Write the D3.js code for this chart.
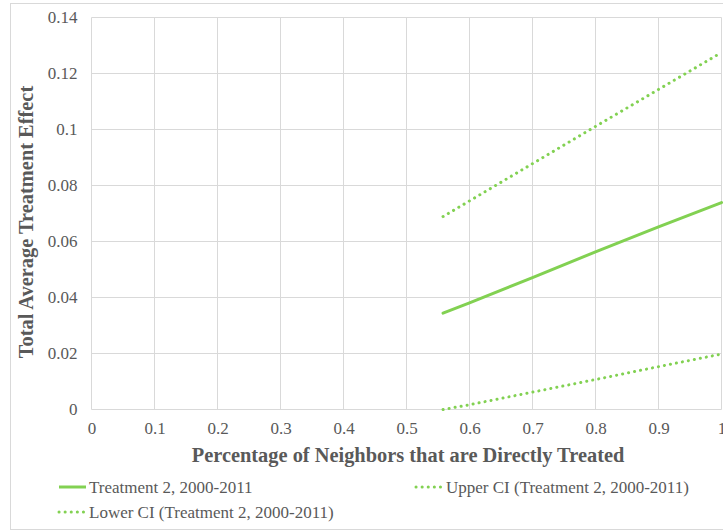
<!DOCTYPE html>
<html><head><meta charset="utf-8">
<script src="https://cdn.jsdelivr.net/npm/d3@7"></script>
<style>body{margin:0;background:#fff;} svg{display:block;}</style>
</head><body>
<svg id="chart" width="723" height="531"></svg>
<script>
const xTicks = [0,0.1,0.2,0.3,0.4,0.5,0.6,0.7,0.8,0.9,1];
const yTicks = [0,0.02,0.04,0.06,0.08,0.1,0.12,0.14];
const xValues = [0.558, 0.6, 0.7, 0.8, 0.9, 1.0];
const treatment = [0.0344, 0.0381, 0.0471, 0.0563, 0.0652, 0.0739];
const upperCI = [0.0689, 0.0745, 0.0878, 0.1011, 0.1143, 0.1275];
const lowerCI = [0.0000, 0.0017, 0.0062, 0.0107, 0.0153, 0.0198];
const seriesNames = ["Treatment 2, 2000-2011", "Upper CI (Treatment 2, 2000-2011)", "Lower CI (Treatment 2, 2000-2011)"];
const green = "#82d152";
const grey = "#595959";

const svg = d3.select("#chart");
svg.append("rect").attr("x",10.5).attr("y",3.5).attr("width",730).attr("height",526)
  .attr("fill","none").attr("stroke","#d9d9d9").attr("stroke-width",1);

const x = d3.scaleLinear().domain([0,1]).range([91.5,721.5]);
const y = d3.scaleLinear().domain([0,0.14]).range([409.5,17.5]);

const grid = svg.append("g");
grid.selectAll(".vg").data(xTicks).join("line")
  .attr("x1",d=>x(d)).attr("x2",d=>x(d)).attr("y1",y(0)).attr("y2",y(0.14))
  .attr("stroke","#d9d9d9").attr("stroke-width",1);
grid.selectAll(".hg").data(yTicks).join("line")
  .attr("x1",x(0)).attr("x2",x(1)).attr("y1",d=>y(d)).attr("y2",d=>y(d))
  .attr("stroke","#d9d9d9").attr("stroke-width",1);

const font = "'Liberation Serif','Times New Roman',serif";
const xAxis = d3.axisBottom(x).tickValues(xTicks).tickSize(0).tickPadding(12).tickFormat(d=>String(d));
const gx = svg.append("g").attr("transform",`translate(0,${y(0)})`).call(xAxis);
gx.select(".domain").remove();
gx.selectAll("text").attr("fill",grey).style("font-family",font).style("font-size","17px");

const yAxis = d3.axisLeft(y).tickValues(yTicks).tickSize(0).tickPadding(14).tickFormat(d=>String(d));
const gy = svg.append("g").attr("transform",`translate(${x(0)},0)`).call(yAxis);
gy.select(".domain").remove();
gy.selectAll("text").attr("fill",grey).style("font-family",font).style("font-size","17px");

svg.append("text").attr("x",408).attr("y",462).attr("text-anchor","middle")
  .attr("fill",grey).style("font-family",font).style("font-size","20.4px").style("font-weight","bold")
  .text("Percentage of Neighbors that are Directly Treated");
svg.append("text").attr("transform","translate(33,222) rotate(-90)").attr("text-anchor","middle")
  .attr("fill",grey).style("font-family",font).style("font-size","20.4px").style("font-weight","bold")
  .text("Total Average Treatment Effect");

const line = d3.line().x(d=>x(d[0])).y(d=>y(d[1]));
const plot = svg.append("g");
plot.append("path").datum(xValues.map((v,i)=>[v,upperCI[i]])).attr("d",line)
  .attr("fill","none").attr("stroke",green).attr("stroke-width",3).attr("stroke-dasharray","0.1 6").attr("stroke-linecap","round");
plot.append("path").datum(xValues.map((v,i)=>[v,lowerCI[i]])).attr("d",line)
  .attr("fill","none").attr("stroke",green).attr("stroke-width",3).attr("stroke-dasharray","0.1 6").attr("stroke-linecap","round");
plot.append("path").datum(xValues.map((v,i)=>[v,treatment[i]])).attr("d",line)
  .attr("fill","none").attr("stroke",green).attr("stroke-width",3).attr("stroke-linecap","round");

const legend = [
  {name:seriesNames[0], x:58, y:487, dotted:false},
  {name:seriesNames[1], x:415, y:487, dotted:true},
  {name:seriesNames[2], x:58, y:512, dotted:true}
];
legend.forEach(l=>{
  svg.append("line").attr("x1",l.x+1).attr("x2",l.x+28).attr("y1",l.y).attr("y2",l.y)
    .attr("stroke",green).attr("stroke-width",3)
    .attr("stroke-dasharray", l.dotted ? "0.1 6" : null)
    .attr("stroke-linecap", l.dotted ? "round" : "butt");
  svg.append("text").attr("x",l.x+31).attr("y",l.y+5.5).attr("fill",grey)
    .style("font-family",font).style("font-size","17px").text(l.name);
});
</script>
</body></html>
